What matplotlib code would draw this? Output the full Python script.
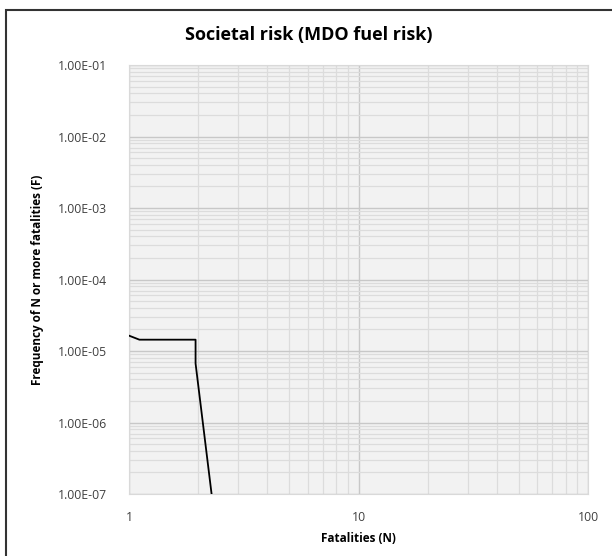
import matplotlib
matplotlib.use("Agg")
from matplotlib import pyplot as plt
from matplotlib.patches import Rectangle
from matplotlib.ticker import FixedLocator, FuncFormatter, LogLocator, NullFormatter

plt.rcParams['font.family'] = ['Open Sans', 'DejaVu Sans']

# F-N curve values
fatalities = [1.0, 1.11, 1.95, 1.95, 2.29]
frequency = [1.64e-5, 1.44e-5, 1.44e-5, 6.7e-6, 1.0e-7]
x_ticks = [1, 10, 100]
y_ticks = [1e-1, 1e-2, 1e-3, 1e-4, 1e-5, 1e-6, 1e-7]

fig = plt.figure(figsize=(6.12, 5.56), dpi=100)
ax = fig.add_axes([129/612, 1 - 494/556, 459/612, 429/556])

ax.set_facecolor('#f2f2f2')
ax.set_xscale('log')
ax.set_yscale('log')
ax.set_xlim(1, 100)
ax.set_ylim(1e-7, 1e-1)

ax.plot(fatalities, frequency, color='black', lw=1.3, zorder=3)

ax.xaxis.set_major_locator(FixedLocator(x_ticks))
ax.xaxis.set_major_formatter(FuncFormatter(lambda v, p: f"{v:g}"))
ax.xaxis.set_minor_locator(LogLocator(base=10, subs=range(2, 10)))
ax.xaxis.set_minor_formatter(NullFormatter())
ax.yaxis.set_major_locator(FixedLocator(y_ticks))
ax.yaxis.set_major_formatter(FuncFormatter(lambda v, p: f"{v:.2E}"))
ax.yaxis.set_minor_locator(LogLocator(base=10, subs=range(2, 10)))
ax.yaxis.set_minor_formatter(NullFormatter())

ax.grid(which='major', color='#c8c8c8', lw=1.0)
ax.grid(which='minor', color='#dcdcdc', lw=0.9)
ax.set_axisbelow(True)
for s in ax.spines.values():
    s.set_color('#d9d9d9')
ax.tick_params(which='both', length=0, labelsize=8.8, labelcolor='#404040')
ax.tick_params(axis='x', pad=12)
ax.tick_params(axis='y', pad=16)

# title is centred on the whole chart, not the plot area
fig.text(0.505, 1 - 35/556, 'Societal risk (MDO fuel risk)', fontsize=13,
         fontweight='bold', ha='center', va='center')
ax.set_xlabel('Fatalities (N)', fontsize=8.5, fontweight='bold', labelpad=6)
ax.set_ylabel('Frequency of N or more fatalities (F)', fontsize=8.5, fontweight='bold', labelpad=10)

# outer frame, cut off at right and bottom
fig.patches.append(Rectangle((6/612, -0.1), 1.2, 1 - 10/556 + 0.1, transform=fig.transFigure,
                             fill=False, edgecolor='#333333', lw=1.5))

fig.savefig('out.png', dpi=100)
